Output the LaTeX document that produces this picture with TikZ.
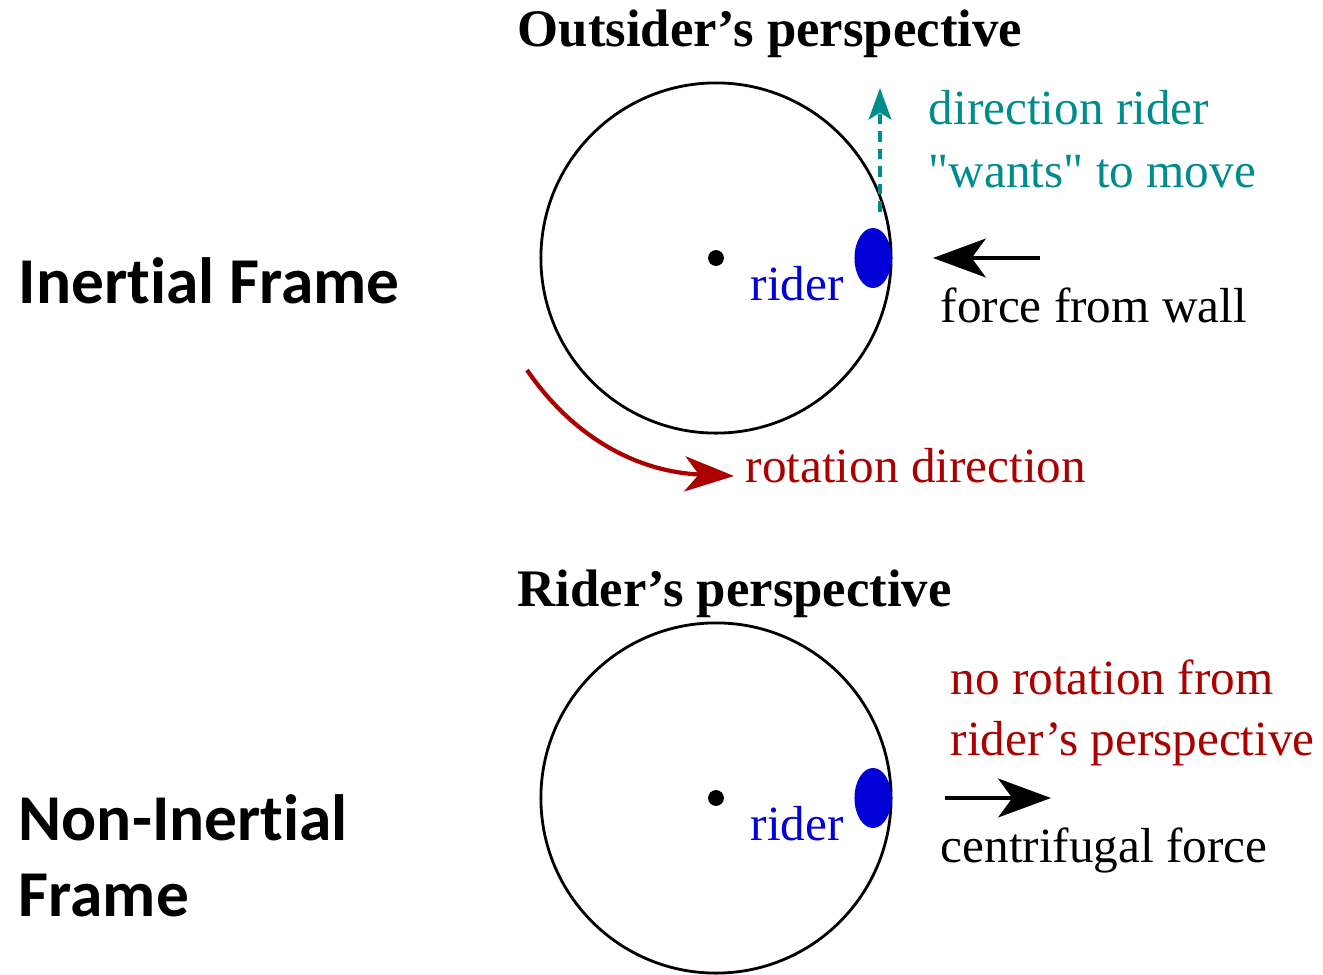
\documentclass[tikz,border=0pt]{standalone}
\usepackage{fontspec}
\setmainfont{Liberation Serif}[Ligatures=TeXOff]
\newfontfamily\framefont{Carlito}[Ligatures={NoCommon,NoRare,NoDiscretionary}, Contextuals=NoAlternate]
\usetikzlibrary{arrows.meta, positioning, shapes.geometric}
\definecolor{wantcol}{RGB}{0,140,140}
\definecolor{rotcol}{RGB}{170,0,0}
\definecolor{ridercol}{RGB}{0,0,215}
\tikzset{
    wheel/.style = {circle, draw=black, line width=0.8pt, minimum size=3.5cm, inner sep=0pt},
    hub/.style = {circle, fill=black, inner sep=0pt, minimum size=4.5pt},
    riderblob/.style = {ellipse, fill=ridercol, inner sep=0pt, minimum width=0.37cm, minimum height=0.6cm},
    heading/.style = {anchor=base west, inner sep=0pt, font=\fontsize{15}{18}\selectfont\bfseries},
    txt/.style = {anchor=base west, inner sep=0pt, font=\fontsize{14}{17}\selectfont},
    framename/.style = {anchor=base west, inner sep=0pt, font=\framefont\fontsize{18.6}{22}\selectfont\bfseries},
    arrow/.style = {line width=1.3pt, -{Stealth[length=15pt, width=11pt, inset=4pt]}},
    wantarrow/.style = {wantcol, line width=0.9pt, dash pattern=on 3pt off 2pt, -{Stealth[length=9pt, width=6.5pt, inset=2pt]}},
    rotarrow/.style = {rotcol, line width=1.2pt, -{Stealth[length=14pt, width=10pt, inset=4pt]}}
}

\begin{document}
\begin{tikzpicture}[x=0.01cm, y=-0.01cm]
    \useasboundingbox (0,0) rectangle (1323,975);

    % Inertial frame (top)
    \node (inertial) [framename] at (18,303) {Iner\kern0pt tial Frame};
    \node (outsider) [heading] at (517,46) {Outsider’s perspective};
    \node (wheel1) [wheel] at (716,258) {};
    \node (hub1) [hub] at (wheel1.center) {};
    \node (rider1) [riderblob] at (873,258) {};
    \node (ridertxt1) [txt, ridercol] at (750,300) {rider};
    \node (wants1) [txt, wantcol] at (928,124) {direction rider};
    \node (wants2) [txt, wantcol] at (928,187) {"wants" to move};
    \node (wall) [txt] at (940,322) {force from wall};
    \node (rottxt) [txt, rotcol] at (745,482) {rotation direction};
    \coordinate (wantstart) at (880,212);
    \coordinate (wanttip) at (880,88);
    \coordinate (wallstart) at (1040,258);
    \coordinate (walltip) at (933,258);
    \coordinate (rotstart) at (527,370);
    \coordinate (rottip) at (734,476);

    % Arrows
    \draw [wantarrow] (wantstart) -- (wanttip);
    \draw [arrow] (wallstart) -- (walltip);
    \draw [rotarrow] (rotstart) .. controls (575,440) and (640,472) .. (rottip);

    % Non-inertial frame (bottom)
    \node (noninertial) [framename] at (18,840) {Non-Iner\kern0pt tial};
    \node (frame2) [framename] at (18,916) {Frame};
    \node (riderview) [heading] at (517,606) {Rider’s perspective};
    \node (wheel2) [wheel] at (716,798) {};
    \node (hub2) [hub] at (wheel2.center) {};
    \node (rider2) [riderblob] at (873,798) {};
    \node (ridertxt2) [txt, ridercol] at (750,840) {rider};
    \node (norot1) [txt, rotcol] at (950,694) {no rotation from};
    \node (norot2) [txt, rotcol] at (950,755) {rider’s perspective};
    \node (centri) [txt] at (940,862) {centrifugal force};
    \coordinate (centristart) at (945,798);
    \coordinate (centritip) at (1051,798);

    \draw [arrow] (centristart) -- (centritip);
\end{tikzpicture}
\end{document}
